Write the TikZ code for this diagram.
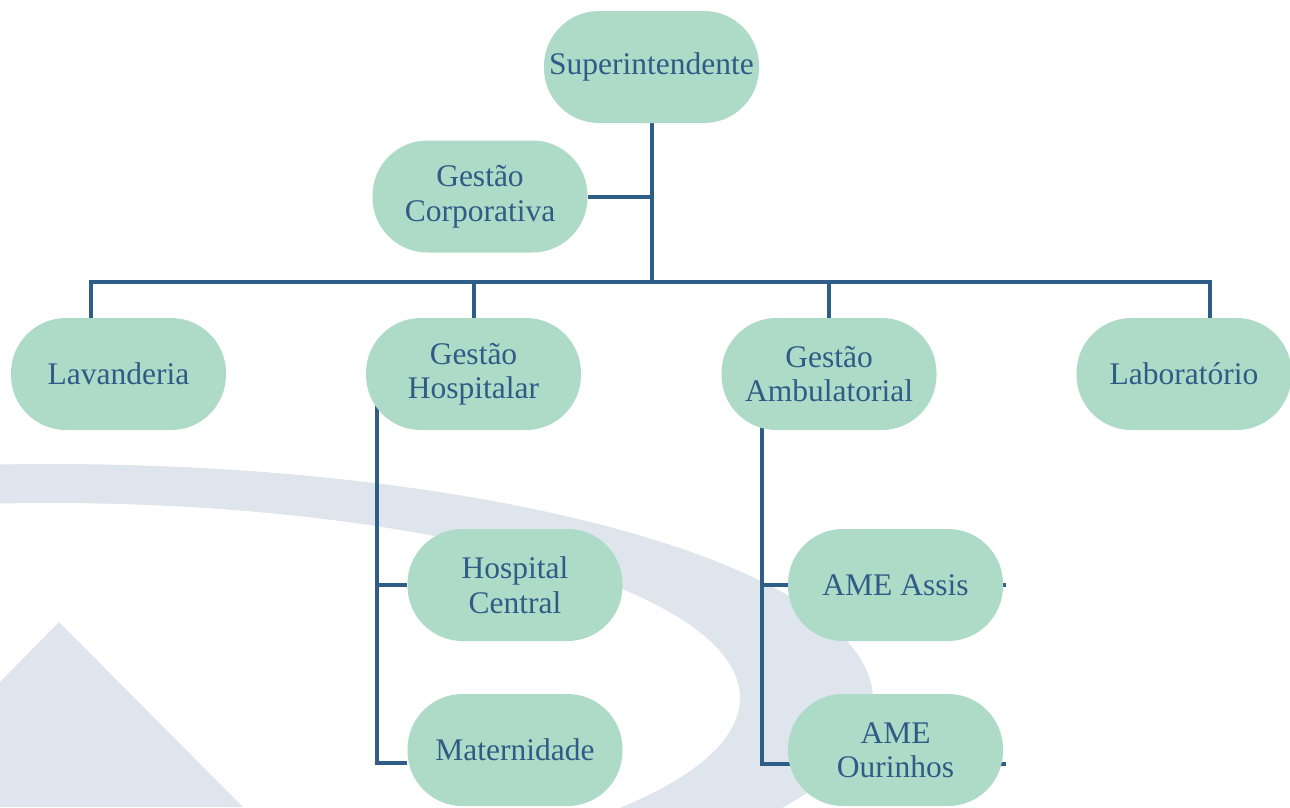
\documentclass[tikz,border=0pt]{standalone}
\usepackage{fontspec}
\setmainfont{Liberation Serif}
\usetikzlibrary{backgrounds}
\definecolor{nodefill}{HTML}{AEDBC7}
\definecolor{txt}{HTML}{2F5C87}
\definecolor{ln}{HTML}{2E5D88}
\definecolor{bgc}{HTML}{DFE5EC}
\begin{document}
\begin{tikzpicture}[x=1pt,y=-1pt,
  box/.style={fill=nodefill, rounded corners=55pt, minimum width=215pt, minimum height=112pt, inner sep=0pt, align=center, text=txt, font=\fontsize{31.5}{34.5}\selectfont},
  conn/.style={draw=ln, line width=4pt}]
\useasboundingbox (0,0) rectangle (1290,807);
\node[box] (S) at (651.5,67) {Superintendente};
\node[box] (GC) at (480,196.5) {Gestão\\Corporativa};
\node[box] (Lav) at (118.5,374) {Lavanderia};
\node[box] (GH) at (473.5,374) {Gestão\\Hospitalar};
\node[box] (GA) at (829,374) {Gestão\\Ambulatorial};
\node[box] (Lab) at (1184,374) {Laboratório};
\node[box] (HC) at (515,585) {Hospital\\Central};
\node[box] (Mat) at (515,750) {Maternidade};
\node[box] (AA) at (895.5,585) {AME Assis};
\node[box] (AO) at (895.5,750) {AME\\Ourinhos};
\begin{scope}[on background layer]
  \begin{scope}
    \clip (0,0) rectangle (1290,807);
    \fill[bgc, even odd rule] (50,700) ellipse [x radius=823, y radius=236]
                              (50,698) ellipse [x radius=690, y radius=195];
    \fill[bgc] (59,622) -- (243,807) -- (0,807) -- (0,682) -- cycle;
  \end{scope}
  \coordinate (bus) at (651.5,282);
  \draw[conn] (S.south) -- (bus);
  \draw[conn] (GC.east) -- (GC.east -| bus);
  \draw[conn] ([xshift=-27.5pt]Lav.north) |- (bus) -| ([xshift=26pt]Lab.north);
  \draw[conn] (GH.north) -- (GH.north |- bus);
  \draw[conn] (GA.north) -- (GA.north |- bus);
  \coordinate (hv) at (377,374);
  \draw[conn] (hv) |- (HC.west);
  \draw[conn] (hv) |- ([yshift=-13pt]Mat.west);
  \coordinate (av) at (762,374);
  \draw[conn] (av) |- ([xshift=3pt]AA.east);
  \draw[conn] (av) |- ([xshift=3pt,yshift=-14pt]AO.east);
\end{scope}
\end{tikzpicture}
\end{document}
